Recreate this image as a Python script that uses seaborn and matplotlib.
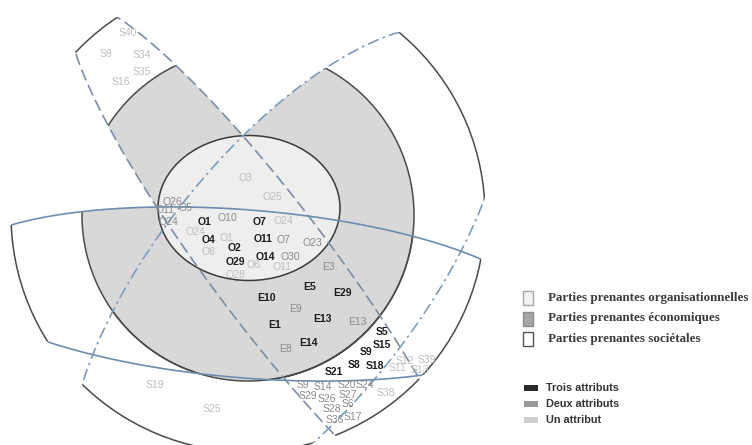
import numpy as np
import pandas as pd
import matplotlib
matplotlib.use('Agg')
import matplotlib.pyplot as plt
import matplotlib.patches as mpatches
import seaborn as sns

sns.set_theme(style='white')

# stakeholder codes placed in the diagram: name, x, y, number of attributes
org_names = ['O26', 'O11', 'O5', 'O24', 'O1', 'O10', 'O7', 'O24', 'O24', 'O4', 'O1', 'O11',
             'O7', 'O23', 'O8', 'O2', 'O29', 'O6', 'O14', 'O30', 'O11', 'O28', 'O3', 'O25']
org_x = [172, 165, 185, 168, 205, 227, 260, 283, 195, 208, 227, 263,
         283, 312, 208, 235, 235, 253, 265, 290, 282, 235, 245, 272]
org_y = [202, 210, 208, 222, 222, 218, 222, 221, 232, 240, 238, 239,
         240, 243, 252, 248, 262, 265, 257, 257, 267, 275, 178, 197]
org_attr = [2, 2, 2, 2, 3, 2, 3, 1, 1, 3, 1, 3,
            2, 2, 1, 3, 3, 1, 3, 2, 1, 1, 1, 1]

eco_names = ['E3', 'E5', 'E29', 'E10', 'E9', 'E13', 'E13', 'E1', 'E14', 'E8']
eco_x = [328, 310, 342, 267, 295, 323, 357, 275, 308, 285]
eco_y = [267, 287, 293, 298, 309, 319, 322, 325, 343, 349]
eco_attr = [2, 3, 3, 3, 2, 3, 2, 3, 3, 2]

soc_names = ['S40', 'S9', 'S34', 'S35', 'S16', 'S5', 'S15', 'S9', 'S8', 'S18', 'S21',
             'S12', 'S39', 'S11', 'S13', 'S9', 'S14', 'S20', 'S24', 'S38', 'S29', 'S26',
             'S27', 'S6', 'S28', 'S36', 'S17', 'S19', 'S25']
soc_x = [128, 106, 142, 142, 121, 382, 382, 366, 354, 375, 334,
         405, 427, 398, 420, 303, 323, 347, 365, 386, 308, 327,
         348, 348, 332, 335, 353, 155, 212]
soc_y = [33, 54, 55, 72, 82, 332, 345, 352, 365, 366, 372,
         361, 360, 368, 370, 385, 387, 385, 385, 393, 396, 399,
         395, 404, 409, 420, 417, 385, 409]
soc_attr = [1, 1, 1, 1, 1, 3, 3, 3, 3, 3, 3,
            1, 1, 1, 1, 2, 2, 2, 2, 1, 2, 2,
            2, 2, 2, 2, 2, 1, 1]

group_labels = ['Parties prenantes organisationnelles', 'Parties prenantes économiques',
                'Parties prenantes sociétales']
attr_labels = ['Trois attributs', 'Deux attributs', 'Un attribut']

labels = pd.DataFrame({
    'name': org_names + eco_names + soc_names,
    'x': org_x + eco_x + soc_x,
    'y': org_y + eco_y + soc_y,
    'attr': org_attr + eco_attr + soc_attr,
})

attr_color = {3: '#1c1c1c', 2: '#8a8a8a', 1: '#bebebe'}
attr_weight = {3: 'bold', 2: 'normal', 1: 'normal'}

# geometry of the rings and of the three attribute bands (pixel space)
center = (248, 215)
r_eco, r_soc = 166, 237
inner = (249, 208, 182, 145)
bands = [(272, 267, 327, 60, 53.0), (287, 281, 309, 130, 128.5), (247, 294, 299, 84, 4.6)]
band_style = [('#7b8ea4', (0, (7, 3))), ('#7e9bba', (0, (7, 2.5, 1.5, 2.5))), ('#6b8db2', '-')]


def ellipse_xy(cx, cy, a, b, angle, n=900):
    t = np.linspace(0, 2 * np.pi, n)
    phi = np.deg2rad(angle)
    x = cx + a * np.cos(t) * np.cos(phi) - b * np.sin(t) * np.sin(phi)
    y = cy + a * np.cos(t) * np.sin(phi) + b * np.sin(t) * np.cos(phi)
    return x, y


fig = plt.figure(figsize=(7.52, 4.45), dpi=100)
ax = fig.add_axes([0, 0, 1, 1])
ax.set_xlim(0, 752)
ax.set_ylim(445, 0)
ax.axis('off')

clips = []
for b in bands:
    x, y = ellipse_xy(*b)
    clips.append(mpatches.Polygon(np.column_stack([x, y]), closed=True, transform=ax.transData))

# gray economic disk, only where a band covers it
for clip in clips:
    disk = mpatches.Circle(center, r_eco, fc='#d8d8d8', ec='none', zorder=1)
    ax.add_patch(disk)
    disk.set_clip_path(clip)

for clip in clips:
    for r in (r_eco, r_soc):
        ring = mpatches.Circle(center, r, fill=False, ec='#4a4a4a', lw=1.1, zorder=2)
        ax.add_patch(ring)
        ring.set_clip_path(clip)

ax.add_patch(mpatches.Ellipse(inner[:2], inner[2], inner[3], fc='#eeeeee', ec='#3a3a3a',
                              lw=1.1, zorder=3))

outer_disk = mpatches.Circle(center, r_soc, transform=ax.transData)
for b, (col, ls) in zip(bands, band_style):
    x, y = ellipse_xy(*b)
    line, = ax.plot(x, y, color=col, ls=ls, lw=1.2, zorder=4)
    line.set_clip_path(outer_disk)

for _, row in labels.iterrows():
    ax.text(row['x'], row['y'], row['name'], ha='center', va='center', fontsize=7.5,
            family='Liberation Sans', color=attr_color[row['attr']],
            fontweight=attr_weight[row['attr']], zorder=5)

# legend for the stakeholder groups
box_fc = ['#f2f2f2', '#a6a6a6', '#ffffff']
box_ec = ['#a8a8a8', '#8c8c8c', '#555555']
for i, lab in enumerate(group_labels):
    yy = 298 + i * 20.5
    ax.add_patch(mpatches.Rectangle((523, yy - 7), 10, 14, fc=box_fc[i], ec=box_ec[i], lw=1))
    ax.text(548, yy, lab, ha='left', va='center', fontsize=9.4, family='Liberation Serif',
            fontweight='bold', color='#3a3a3a')

# legend for the number of attributes
attr_df = pd.DataFrame({'x': [531] * 3, 'y': [388, 404, 420], 'lab': attr_labels})
sns.scatterplot(data=attr_df, x='x', y='y', hue='lab',
                palette=['#2a2a2a', '#9a9a9a', '#cfcfcf'],
                marker=[(-1, -0.5), (1, -0.5), (1, 0.5), (-1, 0.5)], s=90,
                linewidth=0, legend=False, ax=ax, zorder=5)
for yy, lab in zip(attr_df['y'], attr_df['lab']):
    ax.text(546, yy, lab, ha='left', va='center', fontsize=7.8, family='Liberation Sans',
            fontweight='bold', color='#333333')

ax.set_xlim(0, 752)
ax.set_ylim(445, 0)
ax.axis('off')
fig.savefig('out.png', dpi=100)
